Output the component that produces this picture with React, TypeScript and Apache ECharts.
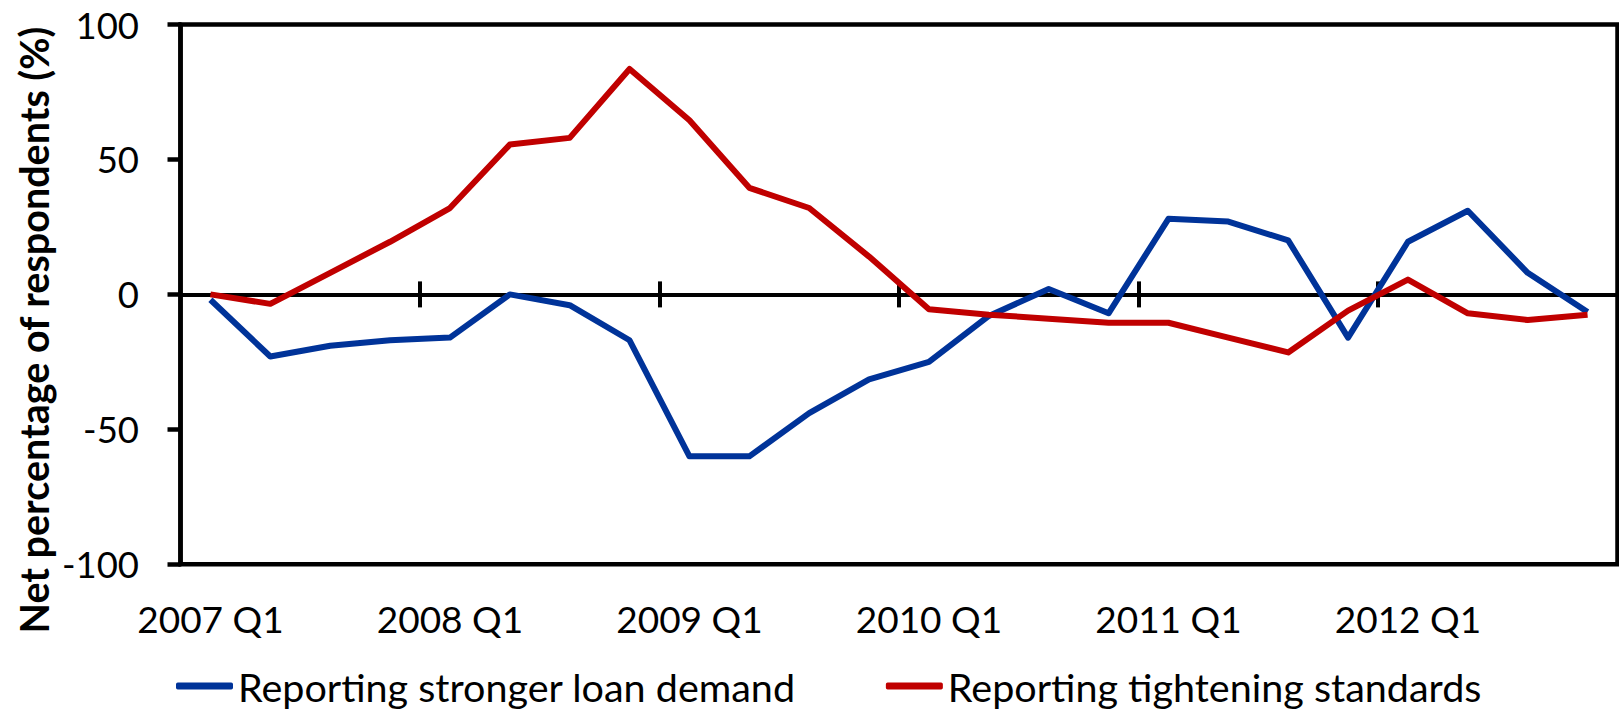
import React, { useEffect, useRef } from "react";
import * as echarts from "echarts";

const categories = [
  "2007 Q1", "2007 Q2", "2007 Q3", "2007 Q4",
  "2008 Q1", "2008 Q2", "2008 Q3", "2008 Q4",
  "2009 Q1", "2009 Q2", "2009 Q3", "2009 Q4",
  "2010 Q1", "2010 Q2", "2010 Q3", "2010 Q4",
  "2011 Q1", "2011 Q2", "2011 Q3", "2011 Q4",
  "2012 Q1", "2012 Q2", "2012 Q3", "2012 Q4",
];

const loanDemand = [
  -2, -23, -19, -17, -16, 0, -4, -17, -60, -60, -44, -31.5,
  -25, -8, 2, -7, 28, 27, 20, -16, 19.5, 31, 8, -6.5,
];

const tightening = [
  0, -3.5, 8, 19.5, 32, 55.5, 58, 83.5, 64.5, 39.5, 32, 14,
  -5.5, -7.5, -9, -10.5, -10.5, -16, -21.5, -6, 5.5, -7, -9.5, -7.5,
];

const seriesNames = ["Reporting stronger loan demand", "Reporting tightening standards"];
const yAxisTitle = "Net percentage of respondents (%)";

const FONT = "Lato";

export default function App() {
  const ref = useRef<HTMLDivElement>(null);
  useEffect(() => {
    document.body.style.margin = "0";
    const chart = echarts.init(ref.current!, null, { renderer: "svg" });
    const tickInterval = (index: number) => index % 4 === 0 && index > 0;
    const zeroAxisBase = {
      type: "category",
      data: categories,
      position: "bottom",
      boundaryGap: true,
      axisLine: { show: true, onZero: true, onZeroAxisIndex: 0, lineStyle: { color: "#000", width: 4 } },
      axisLabel: { show: false },
      splitLine: { show: false },
    };
    chart.setOption({
      animation: false,
      backgroundColor: "#fff",
      grid: {
        left: 180.5,
        right: 1.5,
        top: 24.5,
        bottom: 145.7,
        show: true,
        borderColor: "#000",
        borderWidth: 4.5,
        backgroundColor: "transparent",
      },
      xAxis: [
        {
          ...zeroAxisBase,
          axisTick: { show: true, inside: false, length: 13, interval: tickInterval, lineStyle: { color: "#000", width: 4 } },
        },
        {
          ...zeroAxisBase,
          axisTick: { show: true, inside: true, length: 13, interval: tickInterval, lineStyle: { color: "#000", width: 4 } },
        },
        {
          type: "category",
          data: categories,
          position: "bottom",
          boundaryGap: true,
          axisLine: { show: false, onZero: false },
          axisTick: { show: false },
          axisLabel: { interval: 3, fontFamily: FONT, fontSize: 37, color: "#000", margin: 36 },
          splitLine: { show: false },
        },
      ],
      yAxis: {
        type: "value",
        min: -100,
        max: 100,
        interval: 50,
        axisLine: { show: true, lineStyle: { color: "#000", width: 4.5 } },
        axisTick: { show: true, inside: false, length: 13, lineStyle: { color: "#000", width: 4.5 } },
        axisLabel: { fontFamily: FONT, fontSize: 36.5, color: "#000", margin: 41.5 },
        splitLine: { show: false },
      },
      legend: {
        data: seriesNames,
        left: 176,
        top: 666,
        padding: 0,
        icon: "roundRect",
        itemWidth: 57,
        itemHeight: 7,
        itemGap: 90,
        textStyle: { fontFamily: FONT, fontSize: 39.5, color: "#000" },
      },
      graphic: [
        {
          type: "text",
          x: 33,
          y: 330,
          rotation: Math.PI / 2,
          style: {
            text: yAxisTitle,
            font: `bold 39.5px ${FONT}`,
            fill: "#000",
            align: "center",
            verticalAlign: "middle",
          },
        },
      ],
      series: [
        {
          name: seriesNames[0],
          type: "line",
          xAxisIndex: 2,
          data: loanDemand,
          showSymbol: false,
          symbol: "none",
          color: "#003399",
          lineStyle: { color: "#003399", width: 6, join: "round" },
          z: 3,
        },
        {
          name: seriesNames[1],
          type: "line",
          xAxisIndex: 2,
          data: tightening,
          showSymbol: false,
          symbol: "none",
          color: "#C00000",
          lineStyle: { color: "#C00000", width: 6, join: "round" },
          z: 4,
        },
      ],
    });
    return () => chart.dispose();
  }, []);
  return <div ref={ref} style={{ width: 1619, height: 710 }} />;
}
